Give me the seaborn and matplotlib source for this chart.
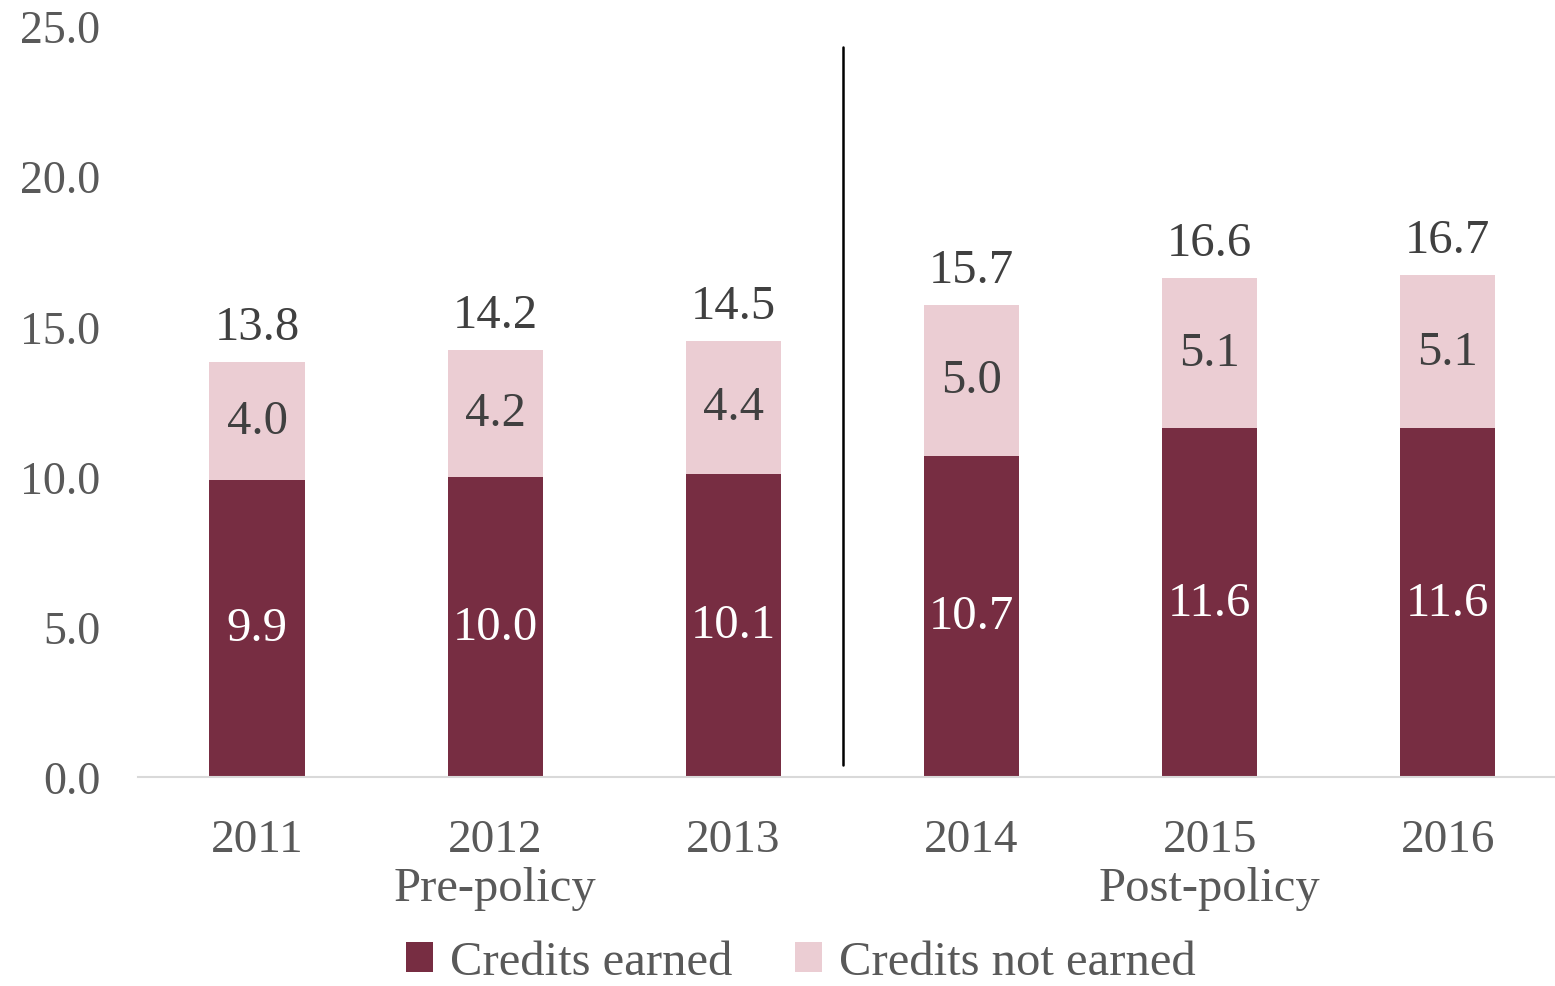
import matplotlib
matplotlib.use("Agg")
import matplotlib.pyplot as plt
import seaborn as sns
import pandas as pd

years = ["2011", "2012", "2013", "2014", "2015", "2016"]
earned = [9.9, 10.0, 10.1, 10.7, 11.6, 11.6]
not_earned = [4.0, 4.2, 4.4, 5.0, 5.1, 5.1]
totals = [13.8, 14.2, 14.5, 15.7, 16.6, 16.7]
periods = ["Pre-policy", "Post-policy"]
legend_labels = ["Credits earned", "Credits not earned"]

dark = "#772D42"
light = "#EBCDD3"

sns.set_theme(style="white")
plt.rcParams["font.family"] = ["Liberation Serif", "DejaVu Serif"]

df = pd.DataFrame({"year": years, "earned": earned, "total": totals})

fig = plt.figure(figsize=(15.55, 9.87), dpi=100)
ax = fig.add_axes([0.0887, 0.2118, 0.9113, 0.7609])

sns.barplot(data=df, x="year", y="total", color=light, width=0.40,
            saturation=1, ax=ax, label=legend_labels[1], linewidth=0)
sns.barplot(data=df, x="year", y="earned", color=dark, width=0.40,
            saturation=1, ax=ax, label=legend_labels[0], linewidth=0)

ax.set_ylim(0, 25)
ax.set_xlim(-0.5, 5.45)
ax.set_yticks([0, 5, 10, 15, 20, 25])
ax.set_yticklabels([f"{v:.1f}" for v in [0, 5, 10, 15, 20, 25]])
ax.set_xlabel("")
ax.set_ylabel("")
for s in ["top", "right", "left"]:
    ax.spines[s].set_visible(False)
ax.spines["bottom"].set_color("#D9D9D9")
ax.spines["bottom"].set_linewidth(1.5)
ax.tick_params(axis="y", labelsize=33, colors="#595959", length=0, pad=27)
ax.tick_params(axis="x", labelsize=34, colors="#595959", length=0, pad=30)

for i in range(len(years)):
    ax.text(i, earned[i] / 2, f"{earned[i]:.1f}", ha="center", va="center",
            fontsize=35, color="white")
    mid = earned[i] + (totals[i] - earned[i]) / 2
    ax.text(i, mid, f"{not_earned[i]:.1f}", ha="center", va="center",
            fontsize=35, color="#404040")
    ax.text(i, totals[i] + 0.45, f"{totals[i]:.1f}", ha="center", va="bottom",
            fontsize=35, color="#404040")

ax.axvline(2.46, ymin=0.016, ymax=0.972, color="black", linewidth=1.8)

# period labels
for xpos, lab in zip([1, 4], periods):
    ax.text(xpos, -0.148, lab, transform=ax.get_xaxis_transform(),
            ha="center", va="center", fontsize=35, color="#595959")

handles, labels = ax.get_legend_handles_labels()
order = [labels.index(l) for l in legend_labels]
leg = fig.legend([handles[o] for o in order], [labels[o] for o in order],
                 loc="center", bbox_to_anchor=(0.515, 0.024), ncol=2, frameon=False,
                 fontsize=35, handlelength=0.55, handleheight=0.55,
                 handletextpad=0.35, columnspacing=1.3, borderpad=0.1)
for t in leg.get_texts():
    t.set_color("#595959")
if ax.get_legend():
    ax.get_legend().remove()

fig.savefig("out.png", dpi=100)
